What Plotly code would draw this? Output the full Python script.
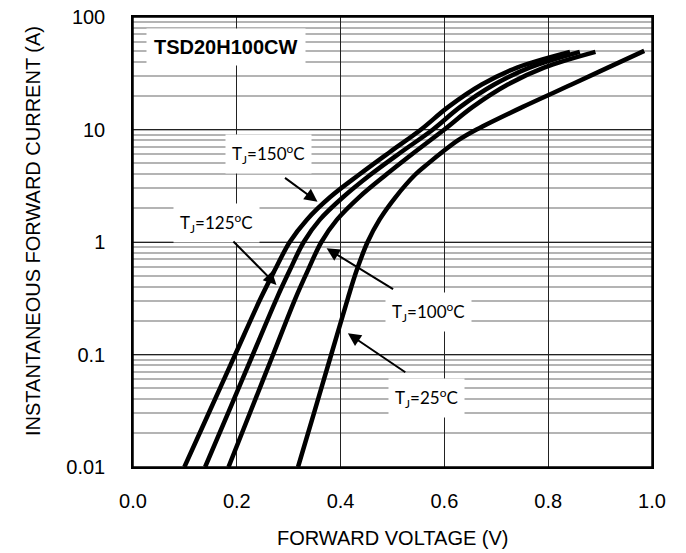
import plotly.graph_objects as go

# Forward current levels (A) shared by the 150/125/100 °C curves
i_hot = [0.01, 0.0316, 0.1, 0.316, 0.56, 1.0, 1.58, 2.51, 3.98, 6.31, 10, 15.8, 25.1, 35.5, 49]
# Forward voltage (V) for each junction temperature
v_150 = [0.099, 0.148, 0.197, 0.246, 0.273, 0.302, 0.335, 0.380, 0.436, 0.495, 0.555, 0.607, 0.672, 0.740, 0.842]
v_125 = [0.139, 0.185, 0.231, 0.277, 0.302, 0.329, 0.360, 0.405, 0.458, 0.517, 0.578, 0.630, 0.696, 0.764, 0.861]
v_100 = [0.184, 0.227, 0.270, 0.313, 0.337, 0.363, 0.393, 0.436, 0.488, 0.543, 0.600, 0.654, 0.722, 0.792, 0.891]
i_25 = [0.01, 0.0316, 0.1, 0.316, 0.56, 1.0, 1.58, 2.51, 3.98, 5.0, 6.31, 8.0, 10, 15.8, 25.1, 35.5, 50]
v_25 = [0.318, 0.350, 0.382, 0.414, 0.431, 0.452, 0.475, 0.506, 0.544, 0.569, 0.596, 0.626, 0.662, 0.750, 0.845, 0.915, 0.985]

x_ticks = [0.0, 0.2, 0.4, 0.6, 0.8, 1.0]
y_ticks = [0.01, 0.1, 1, 10, 100]
y_ticktext = ["0.01", "0.1", "1", "10", "100"]

part_name = "TSD20H100CW"
labels = ["T<sub>J</sub>=150<sup>o</sup>C", "T<sub>J</sub>=125<sup>o</sup>C",
          "T<sub>J</sub>=100<sup>o</sup>C", "T<sub>J</sub>=25<sup>o</sup>C"]

fig = go.Figure()
for v, i in [(v_150, i_hot), (v_125, i_hot), (v_100, i_hot), (v_25, i_25)]:
    fig.add_trace(go.Scatter(x=v, y=i, mode="lines",
                             line=dict(color="black", width=4.5, shape="spline", smoothing=1.0),
                             showlegend=False, hoverinfo="skip"))

ARIAL = "Arial, Liberation Sans, sans-serif"
fig.update_layout(
    width=686, height=553,
    margin=dict(l=133, r=34, t=17, b=86),
    paper_bgcolor="white", plot_bgcolor="white",
    font=dict(family=ARIAL, size=20, color="black"),
    xaxis=dict(range=[0, 1], tickvals=x_ticks, tickformat=".1f", showgrid=True, gridcolor="#222", gridwidth=1,
               showline=True, linecolor="black", linewidth=1.5, mirror=True, ticks="", zeroline=False,
               ticklabelstandoff=15, automargin=False, ticklabeloverflow="allow"),
    yaxis=dict(type="log", range=[-2, 2], tickvals=y_ticks, ticktext=y_ticktext, showgrid=True,
               gridcolor="#222", gridwidth=1,
               minor=dict(dtick="D1", showgrid=True, gridcolor="#b4b4b4", gridwidth=2, ticks=""),
               showline=True, linecolor="black", linewidth=1.5, mirror=True, ticks="", zeroline=False,
               ticklabelstandoff=22, automargin=False, ticklabeloverflow="allow"),
)

# plot frame (ensures every edge is drawn)
fig.add_shape(type="rect", xref="paper", yref="paper", x0=0, x1=1, y0=0, y1=1,
              line=dict(color="black", width=1.5), fillcolor="rgba(0,0,0,0)", layer="above")

# Axis titles
fig.add_annotation(x=0.5, y=-0.158, xref="paper", yref="paper", text="FORWARD VOLTAGE (V)",
                   showarrow=False, font=dict(family=ARIAL, size=20, color="black"),
                   xanchor="center", yanchor="middle")
fig.add_annotation(x=-0.193, y=0.524, xref="paper", yref="paper", text="INSTANTANEOUS FORWARD CURRENT (A)",
                   showarrow=False, textangle=-90, font=dict(family=ARIAL, size=20, color="black"),
                   xanchor="center", yanchor="middle")

# Part name box
fig.add_annotation(x=0.18, y=1.736, xref="x", yref="y", text="<b>" + part_name + "</b>", showarrow=False,
                   font=dict(family=ARIAL, size=20, color="black"), bgcolor="white", borderpad=7)

LBL_FONT = dict(family="Lato, Carlito, sans-serif", size=17, color="black")
# label positions (V, log10 I), arrow start and tip
label_pos = [(0.261, 0.782), (0.160, 0.166), (0.569, -0.62), (0.5655, -1.389)]
arrow_start = [(0.290, 0.580), (0.1906, 0.018), (0.504, -0.427), (0.5276, -1.167)]
arrow_tip = [(0.3555, 0.358), (0.2765, -0.382), (0.373, -0.056), (0.414, -0.812)]

for txt, (lx, ly) in zip(labels, label_pos):
    fig.add_annotation(x=lx, y=ly, xref="x", yref="y", text=txt, showarrow=False, font=LBL_FONT,
                       bgcolor="white", borderpad=6)

for (sx, sy), (tx, ty) in zip(arrow_start, arrow_tip):
    fig.add_annotation(x=tx, y=ty, ax=sx, ay=sy, xref="x", yref="y", axref="x", ayref="y",
                       text="", showarrow=True, arrowhead=2, arrowsize=1.3, arrowwidth=2, arrowcolor="black")

# remove the default page margin so the figure sits at the window's top-left corner
fig.write_html("out.html", config={"displayModeBar": False},
               post_script="document.body.style.margin='0';document.body.style.padding='0';")
